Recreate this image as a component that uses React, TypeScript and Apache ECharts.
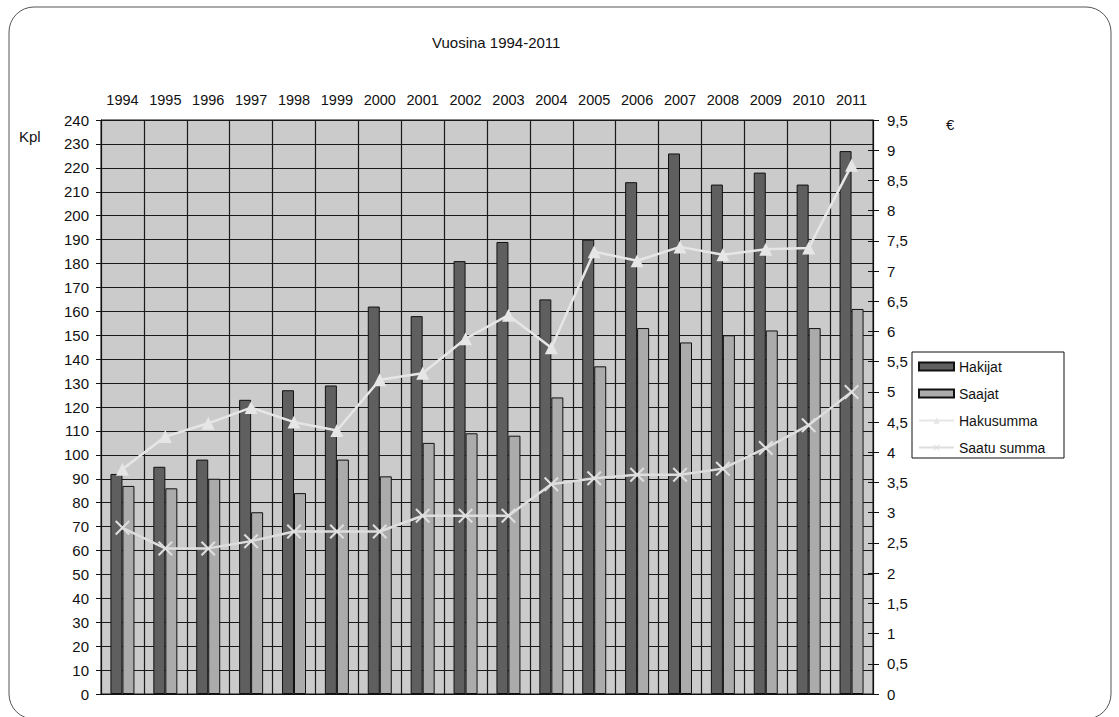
import React, { useEffect, useRef } from "react";
import * as echarts from "echarts";

const years = ["1994","1995","1996","1997","1998","1999","2000","2001","2002","2003","2004","2005","2006","2007","2008","2009","2010","2011"];
const hakijat = [92, 95, 98, 123, 127, 129, 162, 158, 181, 189, 165, 190, 214, 226, 213, 218, 213, 227];
const saajat = [87, 86, 90, 76, 84, 98, 91, 105, 109, 108, 124, 137, 153, 147, 150, 152, 153, 161];
const hakusumma = [3.72, 4.26, 4.48, 4.74, 4.5, 4.36, 5.2, 5.31, 5.88, 6.27, 5.73, 7.32, 7.17, 7.4, 7.27, 7.36, 7.38, 8.75];
const saatuSumma = [2.75, 2.41, 2.41, 2.53, 2.69, 2.69, 2.69, 2.95, 2.95, 2.95, 3.47, 3.57, 3.63, 3.63, 3.73, 4.07, 4.45, 5.0];

const FONT = "'Liberation Sans', Arial, sans-serif";
const CROSS = "path://M0,1L1,0L10,9L9,10Z M9,0L10,1L1,10L0,9Z";

export default function App() {
  const ref = useRef<HTMLDivElement>(null);
  useEffect(() => {
    document.body.style.margin = "0";
    const chart = echarts.init(ref.current!, null, { renderer: "svg" });
    const fmt = (v: number) => String(v).replace(".", ",");
    chart.setOption({
      animation: false,
      backgroundColor: "#fff",
      textStyle: { fontFamily: FONT },
      grid: {
        left: 101, top: 120, width: 772, height: 574,
        show: true, backgroundColor: "#cbcbcb", borderColor: "#111", borderWidth: 1,
      },
      graphic: [
        { type: "rect", shape: { x: 9, y: 7, width: 1102, height: 712, r: 25 }, style: { fill: "none", stroke: "#555", lineWidth: 1 }, silent: true },
        { type: "text", x: 432, y: 35, style: { text: "Vuosina 1994-2011", font: `15px ${FONT}`, fill: "#111" } },
        { type: "text", x: 19, y: 129, style: { text: "Kpl", font: `15px ${FONT}`, fill: "#111" } },
        { type: "text", x: 946, y: 117, style: { text: "€", font: `15px ${FONT}`, fill: "#111" } },
        { type: "rect", shape: { x: 912, y: 352, width: 152, height: 106 }, style: { fill: "#fff", stroke: "#111", lineWidth: 1 } },
      ],
      legend: {
        orient: "vertical", left: 912, top: 354,
        padding: [5, 5, 5, 6],
        itemWidth: 35, itemHeight: 8, itemGap: 12,
        textStyle: { fontSize: 14, color: "#111", fontFamily: FONT, lineHeight: 15 },
        data: [
          { name: "Hakijat", icon: "rect" },
          { name: "Saajat", icon: "rect" },
          { name: "Hakusumma" },
          { name: "Saatu summa" },
        ],
      },
      xAxis: {
        type: "category", data: years, position: "top", boundaryGap: true,
        axisLine: { show: true, lineStyle: { color: "#111" } },
        axisTick: { show: false },
        axisLabel: { fontSize: 14.5, color: "#111", margin: 13, fontFamily: FONT },
        splitLine: { show: true, lineStyle: { color: "#1a1a1a", width: 1.2 } },
      },
      yAxis: [
        {
          type: "value", min: 0, max: 240, interval: 10, position: "left",
          axisLine: { show: true, lineStyle: { color: "#111" } },
          axisTick: { show: true, length: 5, lineStyle: { color: "#111" } },
          axisLabel: { fontSize: 15, color: "#111", margin: 12, fontFamily: FONT },
          splitLine: { show: true, lineStyle: { color: "#1a1a1a", width: 1.2 } },
        },
        {
          type: "value", min: 0, max: 9.5, interval: 0.5, position: "right",
          axisLine: { show: true, lineStyle: { color: "#111" } },
          axisTick: { show: true, length: 6, lineStyle: { color: "#111" } },
          axisLabel: { fontSize: 15, color: "#111", margin: 14, fontFamily: FONT, formatter: fmt },
          splitLine: { show: false },
        },
        {
          type: "value", min: 0, max: 9.5, interval: 0.5, position: "right",
          axisLine: { show: false },
          axisTick: { show: true, inside: true, length: 5, lineStyle: { color: "#111" } },
          axisLabel: { show: false },
          splitLine: { show: false },
        },
      ],
      series: [
        {
          name: "Hakijat", type: "bar", data: hakijat, yAxisIndex: 0,
          barWidth: 12, barGap: "0%",
          itemStyle: { color: "#5f5f60", borderColor: "#111", borderWidth: 1 },
        },
        {
          name: "Saajat", type: "bar", data: saajat, yAxisIndex: 0,
          barWidth: 12, barGap: "0%",
          itemStyle: { color: "#ababab", borderColor: "#111", borderWidth: 1 },
        },
        {
          name: "Hakusumma", type: "line", data: hakusumma, yAxisIndex: 1,
          symbol: "triangle", symbolSize: 13, showAllSymbol: true,
          lineStyle: { color: "#e6e6e6", width: 2.5 },
          itemStyle: { color: "#e6e6e6" },
          z: 5,
        },
        {
          name: "Saatu summa", type: "line", data: saatuSumma, yAxisIndex: 1,
          symbol: CROSS, symbolSize: 15, showAllSymbol: true,
          lineStyle: { color: "#dedede", width: 2.5 },
          itemStyle: { color: "#dedede" },
          z: 5,
        },
      ],
    });
    return () => chart.dispose();
  }, []);
  return <div ref={ref} style={{ width: 1119, height: 717 }} />;
}
